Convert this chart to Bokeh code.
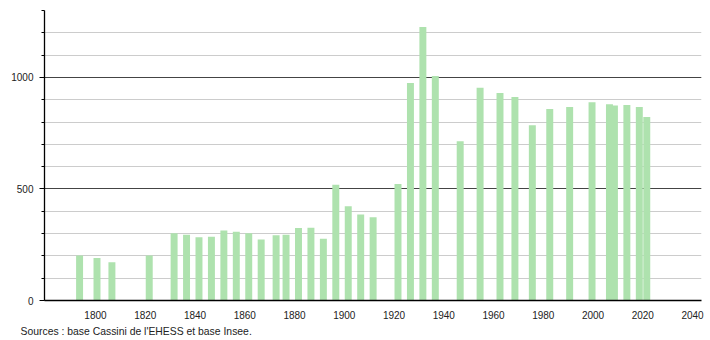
from bokeh.plotting import figure
from bokeh.models import FixedTicker, Title, ColumnDataSource
from bokeh.transform import dodge
from bokeh.embed import file_html
from bokeh.resources import INLINE

years = [1793, 1800, 1806, 1821, 1831, 1836, 1841, 1846, 1851, 1856, 1861, 1866,
         1872, 1876, 1881, 1886, 1891, 1896, 1901, 1906, 1911, 1921, 1926, 1931,
         1936, 1946, 1954, 1962, 1968, 1975, 1982, 1990, 1999, 2006, 2008, 2013,
         2018, 2021]
population = [202, 190, 172, 202, 302, 295, 283, 286, 314, 308, 301, 274,
              292, 295, 325, 326, 277, 519, 422, 386, 373, 522, 975, 1226,
              1006, 714, 954, 930, 912, 786, 858, 867, 889, 880, 874, 876,
              867, 823]
x_ticks = [1800, 1820, 1840, 1860, 1880, 1900, 1920, 1940, 1960, 1980, 2000, 2020, 2040]
y_major = [0, 500, 1000]
y_minor = list(range(0, 1301, 100))
source_text = "Sources : base Cassini de l'EHESS et base Insee."

src = ColumnDataSource(data=dict(year=years, pop=population))

p = figure(width=710, height=340, output_backend="svg", toolbar_location=None,
           x_range=(1779.5, 2043.6), y_range=(0, 1300),
           min_border_left=44, min_border_right=9, min_border_top=10,
           min_border_bottom=40, outline_line_color=None)

p.vbar(x=dodge('year', 0.6), top='pop', width=2.8, bottom=0, source=src,
       fill_color="#aee2ae", line_color=None)

font = "Liberation Sans"

# x axis
p.xaxis.ticker = FixedTicker(ticks=x_ticks)
p.xaxis.major_tick_line_color = None
p.xaxis.minor_tick_line_color = None
p.xaxis.axis_line_color = "black"
p.xaxis.axis_line_width = 1.3
p.xaxis.major_label_text_font = font
p.xaxis.major_label_text_font_size = "10px"
p.xaxis.major_label_text_color = "#222222"
p.xaxis.major_label_standoff = 4

# y axis
p.yaxis.ticker = FixedTicker(ticks=y_major, minor_ticks=y_minor)
p.yaxis.axis_line_color = "black"
p.yaxis.axis_line_width = 1.3
p.yaxis.major_tick_out = 5
p.yaxis.major_tick_in = 0
p.yaxis.minor_tick_out = 3
p.yaxis.minor_tick_in = 0
p.yaxis.major_tick_line_color = "black"
p.yaxis.minor_tick_line_color = "black"
p.yaxis.major_label_text_font = font
p.yaxis.major_label_text_font_size = "10px"
p.yaxis.major_label_text_color = "#222222"
p.yaxis.major_label_standoff = 6

# grids
p.xgrid.grid_line_color = None
p.ygrid.ticker = FixedTicker(ticks=y_major, minor_ticks=y_minor)
p.ygrid.grid_line_color = "#444444"
p.ygrid.grid_line_width = 1
p.ygrid.minor_grid_line_color = "#cccccc"
p.ygrid.minor_grid_line_width = 1
p.ygrid.level = "underlay"

t = Title(text=source_text, align="left", offset=-24, text_font=font,
          text_font_size="10.4px", text_font_style="normal",
          text_color="#222222", standoff=4)
p.add_layout(t, "below")

open("out.html", "w").write(file_html(p, INLINE))
